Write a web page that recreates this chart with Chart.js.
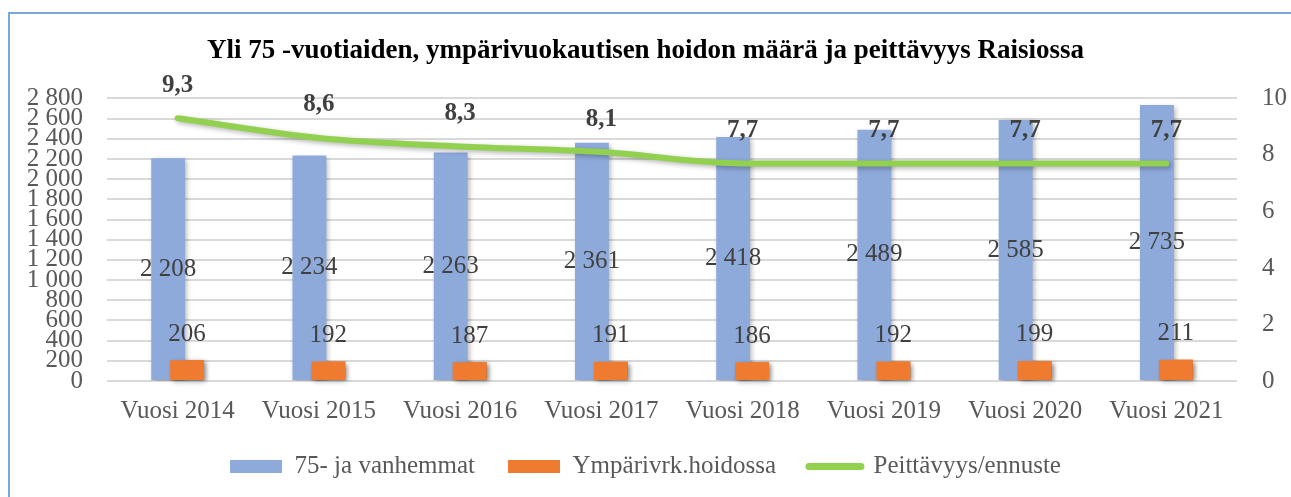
<!DOCTYPE html>
<html>
<head>
<meta charset="utf-8">
<script src="https://cdn.jsdelivr.net/npm/chart.js@4.4.1/dist/chart.umd.min.js"></script>
<style>
  html, body { margin: 0; padding: 0; background: #ffffff; overflow: hidden; }
  #wrap { position: relative; width: 1291px; height: 497px; overflow: hidden; }
  #frame { position: absolute; left: 8px; top: 12px; width: 2000px; height: 1000px;
           border: 2px solid #78a7dc; pointer-events: none; box-sizing: border-box; }
  canvas { position: absolute; left: 0; top: 0; }
</style>
</head>
<body>
<div id="wrap">
  <canvas id="c" width="1291" height="497"></canvas>
  <div id="frame"></div>
</div>
<script>
// ---- Data ----
const chartTitle = 'Yli 75 -vuotiaiden, ympärivuokautisen hoidon määrä ja peittävyys Raisiossa';
const categories = ['Vuosi 2014', 'Vuosi 2015', 'Vuosi 2016', 'Vuosi 2017', 'Vuosi 2018', 'Vuosi 2019', 'Vuosi 2020', 'Vuosi 2021'];
const seriesNames = ['75- ja vanhemmat', 'Ympärivrk.hoidossa', 'Peittävyys/ennuste'];
const population = [2208, 2234, 2263, 2361, 2418, 2489, 2585, 2735];
const inCare = [206, 192, 187, 191, 186, 192, 199, 211];
const coverage = [9.3, 8.6, 8.3, 8.1, 7.7, 7.7, 7.7, 7.7];
const leftTicks = [0, 200, 400, 600, 800, 1000, 1200, 1400, 1600, 1800, 2000, 2200, 2400, 2600, 2800];
const rightTicks = [0, 2, 4, 6, 8, 10];

// ---- Styling ----
const FONT = '"Liberation Serif", "DejaVu Serif", serif';
const BLUE = '#8eaadb';
const ORANGE = '#ee7b30';
const GREEN = '#92d050';
const TICK_COLOR = '#595959';
const LABEL_COLOR = '#404040';
const FS = 25;

const fmtInt = v => String(v).replace(/\B(?=(\d{3})+(?!\d))/g, '\u00a0');
const fmtDec = v => v.toFixed(1).replace('.', ',');

const shadowPlugin = {
  id: 'shadowPlugin',
  beforeDatasetDraw(chart, args) {
    const ctx = chart.ctx;
    ctx.save();
    ctx.shadowColor = 'rgba(0,0,0,0.30)';
    ctx.shadowBlur = 5;
    ctx.shadowOffsetX = 2;
    ctx.shadowOffsetY = 2;
  },
  afterDatasetDraw(chart) {
    chart.ctx.restore();
  }
};

const labelPlugin = {
  id: 'labelPlugin',
  afterDatasetsDraw(chart) {
    const ctx = chart.ctx;
    // bring the orange bars above the overlapping blue bars
    ctx.save();
    ctx.shadowColor = 'rgba(0,0,0,0.30)';
    ctx.shadowBlur = 5;
    ctx.shadowOffsetX = 2;
    ctx.shadowOffsetY = 2;
    chart.getDatasetMeta(1).controller.draw();
    ctx.restore();

    ctx.save();
    ctx.textAlign = 'center';
    ctx.textBaseline = 'middle';
    ctx.fillStyle = LABEL_COLOR;
    ctx.font = FS + 'px ' + FONT;
    chart.getDatasetMeta(0).data.forEach((el, i) => {
      ctx.fillText(fmtInt(population[i]), el.x, (el.y + el.base) / 2);
    });
    chart.getDatasetMeta(1).data.forEach((el, i) => {
      ctx.fillText(fmtInt(inCare[i]), el.x, el.y - 26);
    });
    ctx.font = 'bold ' + FS + 'px ' + FONT;
    chart.getDatasetMeta(2).data.forEach((el, i) => {
      ctx.fillText(fmtDec(coverage[i]), el.x, el.y - 33);
    });
    ctx.restore();
  }
};

const ctx = document.getElementById('c').getContext('2d');
new Chart(ctx, {
  type: 'bar',
  data: {
    labels: categories,
    datasets: [
      {
        label: seriesNames[0],
        data: population,
        backgroundColor: BLUE,
        yAxisID: 'y',
        order: 0,
        categoryPercentage: 0.268,
        barPercentage: 1.79
      },
      {
        label: seriesNames[1],
        data: inCare,
        backgroundColor: ORANGE,
        yAxisID: 'y',
        order: 0,
        categoryPercentage: 0.268,
        barPercentage: 1.79
      },
      {
        type: 'line',
        label: seriesNames[2],
        data: coverage,
        borderColor: GREEN,
        backgroundColor: GREEN,
        borderWidth: 6,
        borderCapStyle: 'round',
        pointRadius: 0,
        cubicInterpolationMode: 'monotone',
        yAxisID: 'y1',
        order: -1
      }
    ]
  },
  options: {
    responsive: false,
    animation: false,
    devicePixelRatio: 1,
    layout: { padding: { left: 0, right: 0, top: 0, bottom: 8 } },
    plugins: {
      title: {
        display: true,
        text: chartTitle,
        color: '#000000',
        font: { family: FONT, size: 27, weight: 'bold' },
        padding: { top: 35, bottom: 31 }
      },
      legend: {
        position: 'bottom',
        labels: {
          font: { family: FONT, size: FS },
          color: TICK_COLOR,
          usePointStyle: true,
          pointStyleWidth: 52,
          boxHeight: 13,
          padding: 33,
          sort: (a, b) => a.datasetIndex - b.datasetIndex,
          generateLabels(chart) {
            const items = Chart.defaults.plugins.legend.labels.generateLabels(chart);
            items.forEach(it => {
              if (it.datasetIndex === 2) {
                it.pointStyle = 'line';
                it.lineWidth = 7;
                it.lineCap = 'round';
                it.strokeStyle = GREEN;
              } else {
                it.pointStyle = 'rect';
                it.lineWidth = 0;
              }
            });
            return items;
          }
        }
      },
      tooltip: { enabled: false }
    },
    scales: {
      x: {
        afterFit: s => { s.height = 40; },
        grid: { display: false, drawTicks: false },
        border: { display: false },
        ticks: { color: TICK_COLOR, font: { family: FONT, size: FS }, padding: 15, maxRotation: 0, autoSkip: false }
      },
      y: {
        position: 'left',
        min: 0,
        max: 2800,
        afterBuildTicks: s => { s.ticks = leftTicks.map(v => ({ value: v })); },
        afterFit: s => { s.width = 107; },
        grid: { color: '#d9d9d9', lineWidth: 2, drawTicks: false },
        border: { display: false },
        ticks: {
          color: TICK_COLOR, font: { family: FONT, size: FS }, padding: 24, autoSkip: false,
          callback: v => fmtInt(v)
        }
      },
      y1: {
        position: 'right',
        min: 0,
        max: 10,
        afterBuildTicks: s => { s.ticks = rightTicks.map(v => ({ value: v })); },
        afterFit: s => { s.width = 54; },
        grid: { drawOnChartArea: false, drawTicks: false },
        border: { display: false },
        ticks: { color: TICK_COLOR, font: { family: FONT, size: FS }, padding: 25, autoSkip: false }
      }
    }
  },
  plugins: [shadowPlugin, labelPlugin]
});
</script>
</body>
</html>
